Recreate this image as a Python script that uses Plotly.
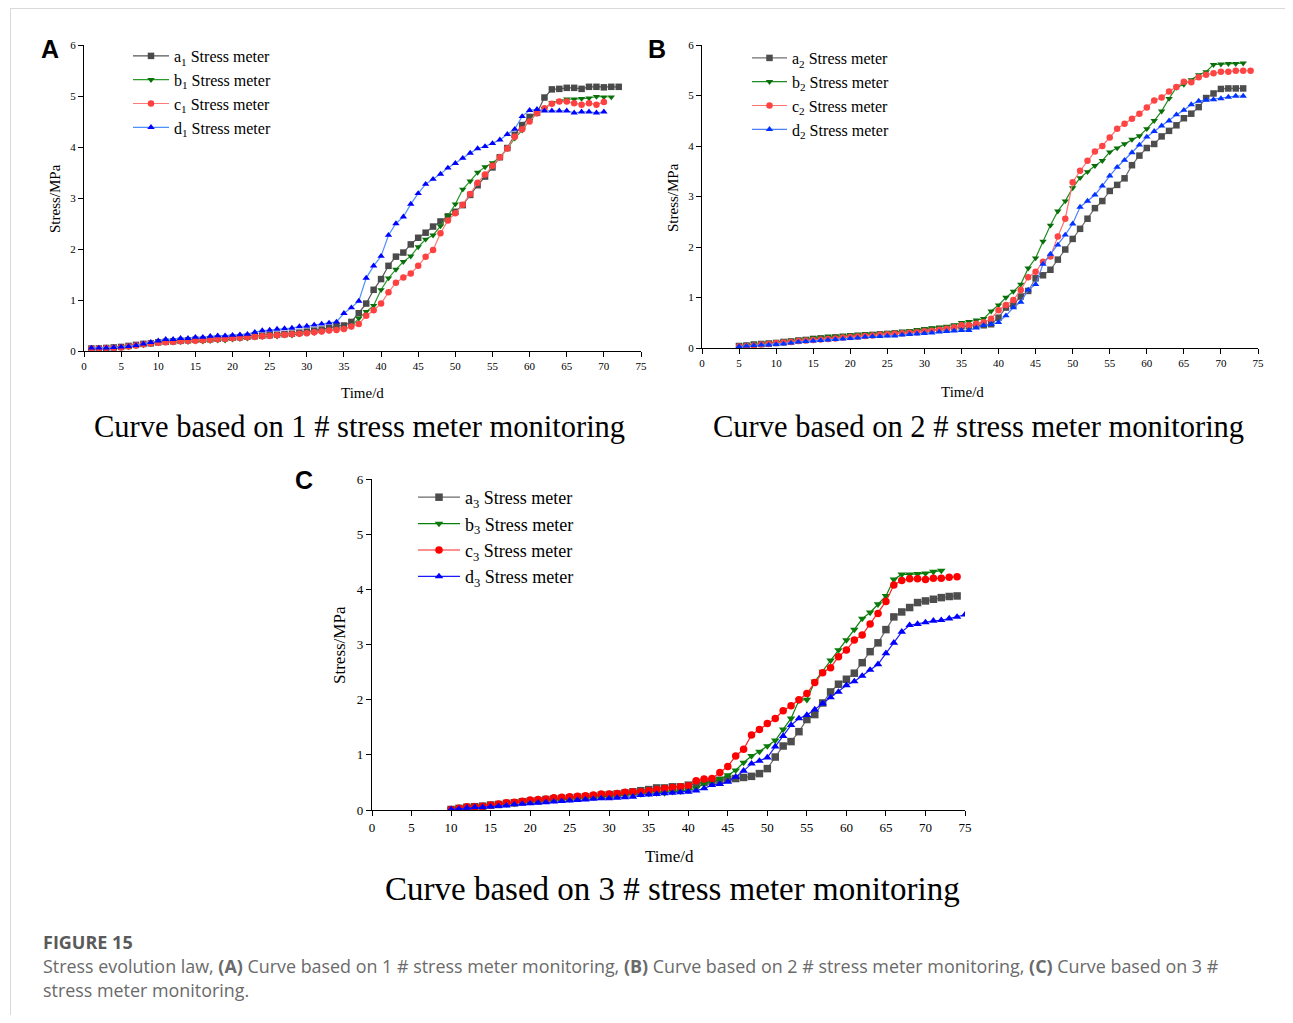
import plotly.graph_objects as go

# page pixels -> figure pixels (browser body margin is 8px)
OFF = 8
FW, FH = 1293 - 2 * OFF, 1023 - 2 * OFF

# ---------------- data ----------------
A_start = {"a": 1, "b": 1, "c": 1, "d": 1}
A_a = [0.05,0.05,0.06,0.07,0.08,0.10,0.12,0.14,0.15,0.17,0.18,0.19,0.20,0.21,0.22,0.22,0.23,0.24,0.25,0.26,
       0.27,0.28,0.29,0.30,0.31,0.32,0.33,0.34,0.36,0.38,0.40,0.42,0.45,0.49,0.50,0.57,0.74,0.93,1.20,1.41,
       1.67,1.85,1.93,2.09,2.22,2.32,2.44,2.54,2.64,2.73,2.86,3.06,3.25,3.42,3.60,3.80,3.98,4.24,4.43,4.59,
       4.67,4.97,5.13,5.14,5.16,5.16,5.14,5.18,5.18,5.17,5.18,5.18]
A_b = [0.04,0.04,0.04,0.05,0.06,0.08,0.10,0.12,0.14,0.16,0.17,0.17,0.18,0.18,0.19,0.19,0.20,0.21,0.21,0.23,
       0.24,0.25,0.27,0.28,0.29,0.29,0.31,0.31,0.33,0.35,0.36,0.38,0.40,0.41,0.43,0.48,0.64,0.77,0.89,1.20,
       1.43,1.60,1.75,1.86,2.04,2.19,2.27,2.45,2.65,2.88,3.17,3.33,3.50,3.61,3.69,3.80,3.97,4.17,4.33,4.52,
       4.66,4.75,4.87,4.90,4.94,4.94,4.95,4.96,4.99,4.98,4.98]
A_c = [0.05,0.05,0.06,0.06,0.07,0.09,0.11,0.13,0.15,0.16,0.17,0.18,0.19,0.20,0.20,0.21,0.22,0.23,0.24,0.25,
       0.26,0.27,0.28,0.29,0.30,0.31,0.32,0.33,0.34,0.35,0.37,0.38,0.40,0.41,0.43,0.48,0.53,0.69,0.80,0.93,
       1.15,1.34,1.44,1.52,1.67,1.85,1.98,2.31,2.56,2.70,2.87,3.08,3.30,3.46,3.63,3.80,3.97,4.20,4.35,4.50,
       4.66,4.76,4.85,4.89,4.89,4.86,4.83,4.86,4.83,4.88]
A_d = [0.06,0.06,0.06,0.07,0.08,0.09,0.11,0.14,0.17,0.20,0.23,0.23,0.25,0.25,0.27,0.27,0.29,0.30,0.30,0.31,
       0.32,0.33,0.37,0.40,0.41,0.43,0.44,0.45,0.48,0.49,0.51,0.53,0.55,0.57,0.74,0.85,0.98,1.43,1.67,1.86,
       2.27,2.50,2.63,2.88,3.09,3.27,3.37,3.47,3.59,3.68,3.78,3.88,3.97,4.01,4.07,4.14,4.25,4.35,4.60,4.72,
       4.74,4.71,4.71,4.71,4.71,4.67,4.69,4.69,4.67,4.69]

B_start = {"a": 5, "b": 5, "c": 5, "d": 5}
B_a = [0.04,0.05,0.07,0.08,0.09,0.10,0.12,0.13,0.15,0.16,0.18,0.19,0.20,0.21,0.22,0.23,0.24,0.25,0.26,0.27,
       0.28,0.29,0.30,0.31,0.33,0.35,0.36,0.38,0.39,0.41,0.43,0.43,0.45,0.45,0.47,0.60,0.80,0.86,1.02,1.13,
       1.38,1.44,1.55,1.75,1.95,2.16,2.36,2.56,2.77,2.91,3.11,3.23,3.36,3.62,3.81,3.96,4.04,4.19,4.30,4.41,
       4.55,4.64,4.77,4.95,5.04,5.13,5.14,5.14,5.14]
B_b = [0.05,0.06,0.08,0.09,0.10,0.11,0.13,0.15,0.16,0.18,0.20,0.21,0.23,0.23,0.25,0.26,0.27,0.28,0.28,0.29,
       0.30,0.31,0.33,0.34,0.36,0.38,0.40,0.41,0.43,0.46,0.50,0.52,0.55,0.58,0.73,0.85,1.00,1.12,1.26,1.58,
       1.78,2.11,2.43,2.71,2.91,3.17,3.37,3.49,3.61,3.71,3.88,3.96,4.04,4.13,4.20,4.34,4.50,4.69,4.94,5.16,
       5.22,5.31,5.41,5.47,5.61,5.62,5.63,5.63,5.64]
B_c = [0.03,0.04,0.05,0.07,0.08,0.10,0.11,0.12,0.14,0.15,0.16,0.17,0.18,0.19,0.21,0.22,0.23,0.24,0.25,0.26,
       0.27,0.28,0.29,0.30,0.31,0.33,0.34,0.36,0.38,0.41,0.45,0.45,0.48,0.51,0.58,0.75,0.85,0.95,1.15,1.40,
       1.51,1.71,1.81,2.21,2.56,3.28,3.51,3.71,3.89,4.00,4.17,4.34,4.44,4.54,4.64,4.76,4.90,4.96,5.08,5.17,
       5.27,5.26,5.36,5.41,5.44,5.47,5.47,5.49,5.49,5.49]
B_d = [0.03,0.04,0.05,0.06,0.06,0.07,0.08,0.10,0.12,0.13,0.14,0.15,0.16,0.17,0.18,0.19,0.20,0.22,0.23,0.23,
       0.24,0.24,0.26,0.27,0.28,0.29,0.30,0.32,0.33,0.34,0.35,0.35,0.40,0.45,0.47,0.51,0.64,0.80,0.91,1.15,
       1.26,1.66,1.86,2.04,2.24,2.46,2.79,2.91,3.03,3.21,3.41,3.58,3.72,3.87,4.02,4.18,4.29,4.40,4.50,4.62,
       4.71,4.82,4.89,4.91,4.92,4.94,4.97,4.99,4.99]

C_start = {"a": 10, "b": 10, "c": 10, "d": 10}
C_a = [0.01,0.03,0.05,0.06,0.07,0.09,0.10,0.12,0.13,0.15,0.16,0.17,0.19,0.20,0.21,0.22,0.23,0.24,0.25,0.27,
       0.28,0.29,0.31,0.33,0.35,0.37,0.40,0.40,0.42,0.42,0.45,0.47,0.50,0.52,0.54,0.56,0.57,0.59,0.61,0.66,
       0.75,0.96,1.16,1.24,1.42,1.64,1.73,1.94,2.14,2.28,2.37,2.48,2.67,2.87,3.03,3.27,3.50,3.59,3.67,3.76,
       3.79,3.82,3.85,3.87,3.88]
C_b = [0.01,0.03,0.05,0.06,0.07,0.08,0.10,0.11,0.12,0.14,0.15,0.16,0.17,0.18,0.19,0.20,0.21,0.22,0.23,0.24,
       0.25,0.26,0.27,0.28,0.29,0.30,0.31,0.31,0.33,0.34,0.36,0.39,0.48,0.51,0.56,0.63,0.72,0.86,0.98,1.06,
       1.16,1.26,1.46,1.66,1.99,2.00,2.33,2.51,2.71,2.90,3.08,3.27,3.47,3.58,3.73,3.88,4.18,4.27,4.27,4.28,
       4.29,4.32,4.34]
C_c = [0.01,0.03,0.06,0.06,0.07,0.09,0.11,0.13,0.14,0.16,0.18,0.19,0.20,0.22,0.23,0.24,0.25,0.26,0.27,0.29,
       0.29,0.30,0.32,0.33,0.33,0.35,0.37,0.39,0.41,0.42,0.44,0.53,0.56,0.57,0.68,0.79,0.98,1.10,1.36,1.46,
       1.57,1.66,1.80,1.89,2.00,2.11,2.31,2.49,2.58,2.78,2.90,3.08,3.17,3.37,3.56,3.78,4.08,4.16,4.19,4.19,
       4.18,4.20,4.20,4.22,4.23]
C_d = [0.01,0.02,0.04,0.05,0.05,0.06,0.07,0.08,0.10,0.11,0.12,0.13,0.14,0.15,0.16,0.17,0.18,0.19,0.20,0.21,
       0.21,0.22,0.23,0.24,0.27,0.28,0.29,0.30,0.31,0.32,0.33,0.35,0.39,0.45,0.47,0.51,0.60,0.71,0.84,0.89,
       0.95,1.15,1.34,1.54,1.66,1.72,1.82,1.93,2.04,2.14,2.26,2.33,2.43,2.54,2.64,2.84,3.03,3.23,3.35,3.37,
       3.40,3.43,3.44,3.47,3.50,3.54]

x_ticks = [0, 5, 10, 15, 20, 25, 30, 35, 40, 45, 50, 55, 60, 65, 70, 75]
y_ticks = [0, 1, 2, 3, 4, 5, 6]
panel_titles = ["Curve based on 1 # stress meter monitoring",
                "Curve based on 2 # stress meter monitoring",
                "Curve based on 3 # stress meter monitoring"]

SERIF = "Liberation Serif, Times New Roman, serif"
SANS = "Liberation Sans, Arial, sans-serif"

fig = go.Figure()

styles = {
    1: {"a": ("#555555", "#4a4a4a"), "b": ("#2a9a2a", "#0a700a"), "c": ("#ff7a7a", "#ff4040"), "d": ("#4d8fff", "#0000ff")},
    2: {"a": ("#707070", "#4d4d4d"), "b": ("#1e8c1e", "#0a6e0a"), "c": ("#ff7070", "#ff4444"), "d": ("#4d7dff", "#0033ff")},
    3: {"a": ("#6a6a6a", "#4d4d4d"), "b": ("#0a800a", "#0a7a0a"), "c": ("#ff2020", "#ff0000"), "d": ("#1a1aff", "#0000ff")},
}
symbols = {"a": "square", "b": "triangle-down", "c": "circle", "d": "triangle-up"}

panels = [
    (1, A_start, {"a": A_a, "b": A_b, "c": A_c, "d": A_d}, 6.5),
    (2, B_start, {"a": B_a, "b": B_b, "c": B_c, "d": B_d}, 6.5),
    (3, C_start, {"a": C_a, "b": C_b, "c": C_c, "d": C_d}, 7.5),
]

for idx, starts, series, msize in panels:
    xa = "x" if idx == 1 else f"x{idx}"
    ya = "y" if idx == 1 else f"y{idx}"
    lg = "legend" if idx == 1 else f"legend{idx}"
    for key in ["a", "b", "c", "d"]:
        vals = series[key]
        days = list(range(starts[key], starts[key] + len(vals)))
        lc, mc = styles[idx][key]
        fig.add_trace(go.Scatter(
            x=days, y=vals, mode="lines+markers",
            name=f"{key}<sub>{idx}</sub> Stress meter",
            line=dict(color=lc, width=1.2),
            marker=dict(symbol=symbols[key], size=msize, color=mc, line=dict(width=0)),
            xaxis=xa, yaxis=ya, legend=lg,
        ))

def px_x(p):
    return (p - OFF) / FW

def px_y(p):
    return 1 - (p - OFF) / FH

domains = {
    1: ((84, 641), (45, 351), 11),
    2: ((702, 1258), (45, 348), 11),
    3: ((372, 965), (479, 810), 13),
}

layout = dict(
    width=FW, height=FH, autosize=False, paper_bgcolor="white", plot_bgcolor="white",
    margin=dict(l=0, r=0, t=0, b=0, pad=0), showlegend=True,
)
for idx, ((x0, x1), (y0, y1), tfs) in domains.items():
    xk = "xaxis" if idx == 1 else f"xaxis{idx}"
    yk = "yaxis" if idx == 1 else f"yaxis{idx}"
    ya = "y" if idx == 1 else f"y{idx}"
    xa = "x" if idx == 1 else f"x{idx}"
    common = dict(showline=True, linecolor="black", linewidth=1.2, ticks="outside", ticklen=5,
                  tickwidth=1, tickcolor="black", showgrid=False, zeroline=False, automargin=False,
                  tickfont=dict(family=SERIF, size=tfs, color="black"), fixedrange=True)
    layout[xk] = dict(domain=[px_x(x0), px_x(x1)], range=[0, 75], tickvals=x_ticks,
                      anchor=ya, **common)
    layout[yk] = dict(domain=[px_y(y1), px_y(y0)], range=[0, 6], tickvals=y_ticks,
                      anchor=xa, **common)

leg_common = dict(xanchor="left", yanchor="top", bgcolor="rgba(0,0,0,0)", borderwidth=0)
layout["legend"] = dict(x=px_x(128), y=px_y(39), itemwidth=36,
                        font=dict(family=SERIF, size=16, color="black"), **leg_common)
layout["legend2"] = dict(x=px_x(747), y=px_y(41), itemwidth=35,
                         font=dict(family=SERIF, size=16, color="black"), **leg_common)
layout["legend3"] = dict(x=px_x(413), y=px_y(479), itemwidth=42,
                         font=dict(family=SERIF, size=18, color="black"), **leg_common)

ann = []

def add_text(text, x, y, size, family=SERIF, color="black", xanchor="center", angle=0):
    ann.append(dict(text=text, x=px_x(x), y=px_y(y), xref="paper", yref="paper",
                    xanchor=xanchor, yanchor="middle", showarrow=False, textangle=angle,
                    font=dict(family=family, size=size, color=color)))

# axis titles
add_text("Stress/MPa", 55, 198, 15, angle=-90)
add_text("Time/d", 362, 393, 15)
add_text("Stress/MPa", 673, 197, 15, angle=-90)
add_text("Time/d", 962, 392, 15)
add_text("Stress/MPa", 339, 645, 17, angle=-90)
add_text("Time/d", 669, 856, 17)

# panel titles
add_text(panel_titles[0], 359, 427, 30.5)
add_text(panel_titles[1], 978, 427, 30.5)
add_text(panel_titles[2], 673, 889, 33)

# panel letters
add_text("<b>A</b>", 50, 49, 25, family=SANS)
add_text("<b>B</b>", 657, 49, 25, family=SANS)
add_text("<b>C</b>", 304, 480, 25, family=SANS)

# caption
CAP = "Open Sans, Noto Sans, sans-serif"
add_text("<b>FIGURE 15</b>", 41, 942, 18, family=CAP, color="#5a5a5a", xanchor="left")
add_text("Stress evolution law, <b>(A)</b> Curve based on 1 # stress meter monitoring, "
         "<b>(B)</b> Curve based on 2 # stress meter monitoring, <b>(C)</b> Curve based on 3 #",
         41, 966, 17.9, family=CAP, color="#6a6a6a", xanchor="left")
add_text("stress meter monitoring.", 41, 990, 17.9, family=CAP, color="#6a6a6a", xanchor="left")

layout["annotations"] = ann
layout["shapes"] = [
    dict(type="line", xref="paper", yref="paper", x0=px_x(10), x1=1, y0=px_y(8.5), y1=px_y(8.5),
         line=dict(color="#d9d9d9", width=1)),
    dict(type="line", xref="paper", yref="paper", x0=px_x(10.5), x1=px_x(10.5), y0=px_y(8), y1=0,
         line=dict(color="#d9d9d9", width=1)),
]

fig.update_layout(**layout)
fig.write_html("out.html")
